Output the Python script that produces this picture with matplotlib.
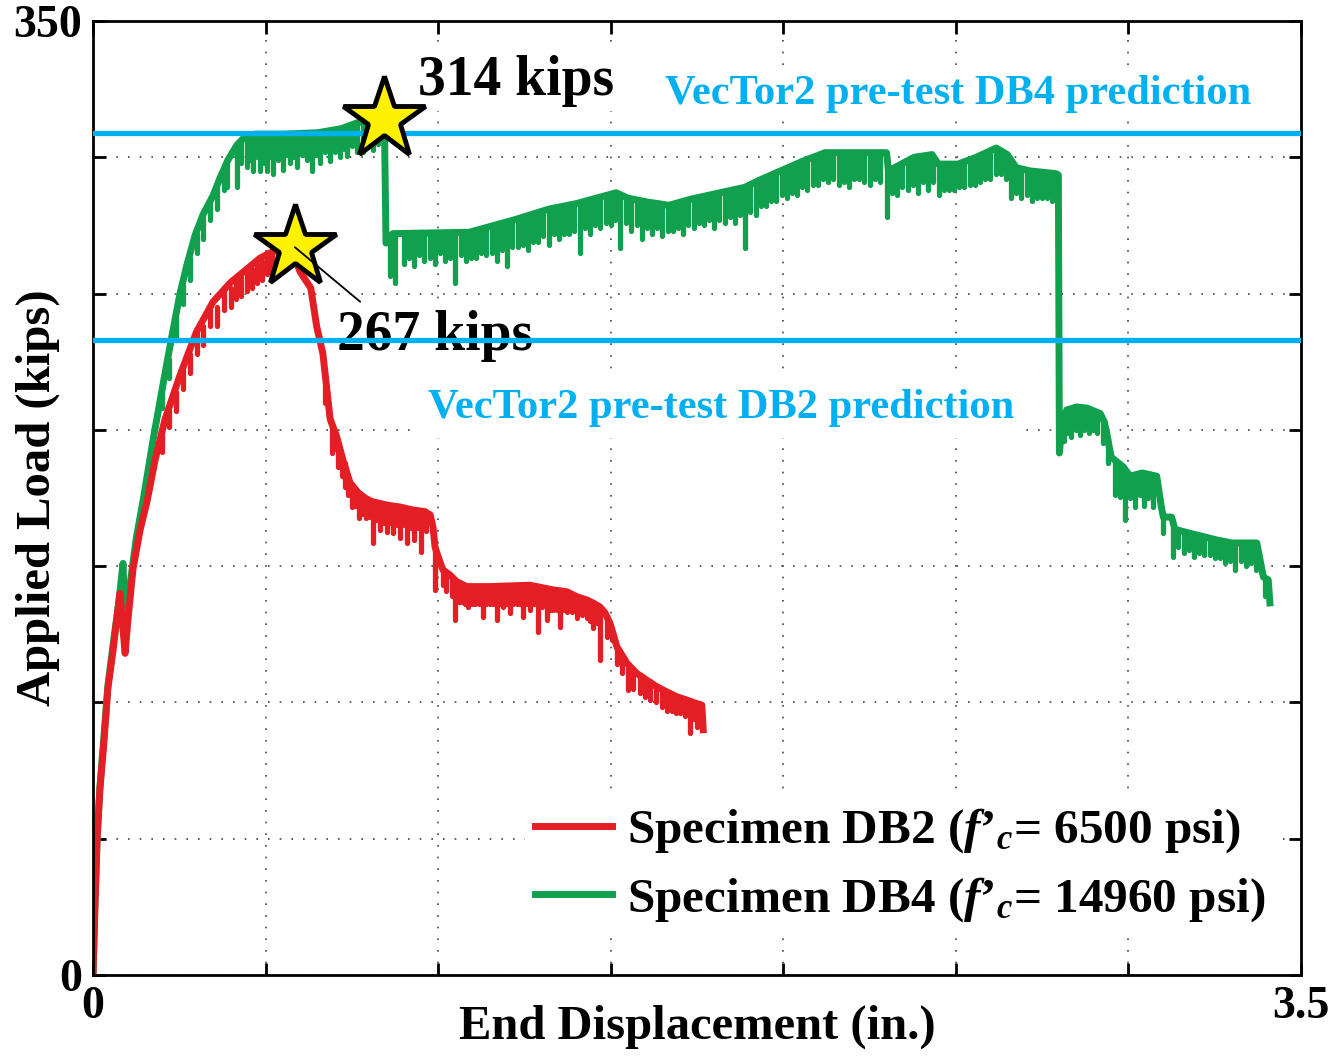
import matplotlib.pyplot as plt
from matplotlib.lines import Line2D

plt.rcParams['font.family'] = ['Liberation Serif', 'DejaVu Serif']
plt.rcParams['font.weight'] = 'bold'
plt.rcParams['axes.labelweight'] = 'bold'
plt.rcParams['mathtext.fontset'] = 'custom'
plt.rcParams['mathtext.rm'] = 'Liberation Serif:bold'
plt.rcParams['mathtext.it'] = 'Liberation Serif:italic:bold'
plt.rcParams['mathtext.bf'] = 'Liberation Serif:bold'

# --- data (in., kips) ---
# specimen DB2, upper envelope of the curve
db2_disp = [0, 0.006, 0.012, 0.020, 0.032, 0.043, 0.058, 0.072, 0.078, 0.093,
            0.101, 0.116, 0.136, 0.157, 0.180, 0.209, 0.252, 0.300, 0.348, 0.398,
            0.446, 0.484, 0.514, 0.550, 0.575, 0.600, 0.631, 0.648, 0.666, 0.687,
            0.706, 0.724, 0.745, 0.768, 0.788, 0.808, 0.832, 0.851, 0.890, 0.927,
            0.962, 0.977, 0.985, 0.991, 1.000, 1.014, 1.034, 1.054, 1.083, 1.150,
            1.266, 1.333, 1.373, 1.402, 1.431, 1.449, 1.469, 1.484, 1.498, 1.518,
            1.547, 1.575, 1.604, 1.633, 1.662, 1.691, 1.720, 1.744, 1.764, 1.768]
db2_load = [0, 27, 50, 68, 86, 105, 119, 134, 140, 118,
            130, 149, 163, 174, 189, 204, 220, 236, 247, 254,
            259, 263, 265, 266.5, 266, 258, 252, 238, 228, 204,
            197.5, 189, 180.5, 177, 175, 173.7, 173, 172.4, 171.7, 170.6,
            170, 168.8, 164.4, 157, 153.5, 148.6, 146.8, 144.3, 142.5, 142.5,
            143, 141.3, 140.6, 138.8, 137.6, 136.5, 135, 132.8, 129, 120.4,
            114.4, 110.7, 108.2, 105.8, 103.9, 102.1, 100.9, 99.8, 99, 90]
# DB2 deep unloading spikes: position, top, bottom
db2_dip_disp = [0.20, 0.24, 0.28, 0.32, 0.36, 0.40, 0.43, 0.46, 0.49, 0.52,
                0.672, 0.692, 0.710, 0.730, 0.750, 0.771, 0.791, 0.810, 0.832, 0.851,
                0.869, 0.890, 0.910, 0.930, 0.950, 0.991, 1.014, 1.049, 1.068, 1.087,
                1.108, 1.130, 1.150, 1.170, 1.188, 1.208, 1.228, 1.246, 1.266, 1.289,
                1.315, 1.333, 1.353, 1.373, 1.402, 1.431, 1.449, 1.469, 1.503, 1.532,
                1.550, 1.585, 1.614, 1.648, 1.677, 1.701, 1.730, 1.749]
db2_dip_top = [199, 214, 228, 238, 245, 252, 256, 259, 262, 264,
               216, 202, 196, 188, 180, 176.5, 174.5, 173.5, 172.8, 172.2,
               171.7, 171.5, 171, 170.3, 169.8, 156.5, 148.3, 145, 143.5, 142.5,
               142.5, 142.5, 142.5, 142.5, 142.5, 142.5, 142.6, 142.7, 142.8, 142.3,
               141.6, 141.1, 140.8, 140.4, 138.6, 137.4, 136.3, 134.8, 127, 117,
               113, 110.2, 107.8, 104.6, 102.8, 101.6, 100.6, 99.7]
db2_dip_low = [192, 207, 221, 231, 238, 245, 249, 252, 255, 257,
               210, 191.5, 186.4, 179.2, 171.8, 167.7, 167.7, 158.5, 163.3, 162.6,
               162, 160.3, 158.5, 159.6, 155.3, 141.3, 143, 130.3, 137, 135.1,
               136, 131.5, 136, 130.3, 135, 132.8, 136, 131.5, 134, 126,
               130.3, 134, 127.8, 133, 131, 131, 127.3, 115.6, 122.9, 110.7,
               104.6, 103.5, 100.9, 98.4, 97, 96, 88.8, 91]
# DB2 shallow spikes between the deep ones
db2_minor_disp = [0.22, 0.26, 0.30, 0.34, 0.38, 0.415, 0.445, 0.475, 0.505, 0.535,
                  0.700, 0.720, 0.740, 0.760, 0.780, 0.800, 0.820, 0.842, 0.860, 0.880,
                  0.900, 0.920, 0.940, 0.965, 1.024, 1.040, 1.059, 1.078, 1.098, 1.119,
                  1.140, 1.160, 1.179, 1.198, 1.218, 1.237, 1.256, 1.278, 1.302, 1.324,
                  1.343, 1.363, 1.388, 1.416, 1.440, 1.459, 1.489, 1.518, 1.565, 1.600,
                  1.630, 1.662, 1.690, 1.715, 1.740, 1.760]
db2_minor_top = [207, 222, 235, 245, 251, 255, 258, 261, 264, 265.5,
                 199, 190, 182, 178, 175.5, 174, 173.2, 172.5, 172, 171.7,
                 171.3, 170.8, 170.2, 169.5, 147.5, 146, 144, 142.7, 142.5, 142.5,
                 142.5, 142.5, 142.5, 142.5, 142.5, 142.6, 142.8, 142.6, 142, 141.3,
                 141, 140.6, 139.6, 138.2, 137, 135.7, 131, 120, 111.5, 108.5,
                 106, 103.8, 102, 101, 99.9, 99]
db2_minor_low = [201, 215, 228, 238, 244, 248, 251, 254, 257, 259,
                 193, 183, 176, 172, 169, 168, 167, 166, 166, 165,
                 165, 164, 164, 163, 141, 139, 137, 136, 136, 136,
                 136, 136, 136, 136, 136, 136, 136, 136, 135, 134,
                 134, 134, 133, 132, 130, 129, 124, 114, 105, 102,
                 100, 97, 96, 95, 94, 93]

# specimen DB4, upper envelope of the curve
db4_disp = [0, 0.006, 0.012, 0.020, 0.032, 0.043, 0.058, 0.075, 0.087, 0.093,
            0.104, 0.125, 0.145, 0.175, 0.209, 0.226, 0.252, 0.272, 0.296, 0.319,
            0.348, 0.368, 0.391, 0.417, 0.440, 0.470, 0.550, 0.650, 0.720, 0.764,
            0.810, 0.835, 0.845, 0.849, 0.852, 0.869, 1.090, 1.219, 1.321, 1.400,
            1.516, 1.550, 1.605, 1.669, 1.734, 1.799, 1.889, 1.927, 1.992, 2.057,
            2.121, 2.299, 2.305, 2.379, 2.431, 2.449, 2.506, 2.559, 2.617, 2.649,
            2.675, 2.715, 2.790, 2.797, 2.800, 2.806, 2.821, 2.850, 2.880, 2.918,
            2.930, 2.937, 2.950, 2.985, 3.005, 3.040, 3.082, 3.095, 3.101, 3.125,
            3.135, 3.180, 3.256, 3.300, 3.372, 3.391, 3.405, 3.410]
db4_load = [0, 28, 51, 69, 88, 106, 121, 137, 151, 128,
            140, 160, 174, 197, 221, 232.6, 250, 260.5, 271.5, 279,
            286, 292.4, 299, 304.5, 307.5, 308.5, 308.5, 309, 310.5, 312.6,
            313.5, 314, 306, 268.5, 270, 272, 272.5, 277, 281, 283,
            287, 285, 283.6, 282.4, 284.7, 286.5, 289, 291.4, 295, 298.6,
            301.7, 301.7, 295, 300, 301, 297.5, 297.5, 300, 303.4, 301,
            296.2, 295, 294, 293.5, 191.5, 200, 207.3, 208.4, 208, 206,
            203, 198.8, 190, 186.4, 183, 184.2, 183, 172, 168, 168,
            163.5, 162, 159.6, 158.5, 158.5, 146, 145, 136.5]
# DB4 deep unloading spikes: position, top, bottom
db4_dip_disp = [0.20, 0.24, 0.28, 0.32, 0.36, 0.388, 0.417, 0.446, 0.464, 0.484,
                0.504, 0.522, 0.551, 0.571, 0.591, 0.620, 0.635, 0.658, 0.687, 0.716,
                0.736, 0.765, 0.782, 0.811, 0.860, 0.875, 0.900, 0.930, 0.960, 0.990,
                1.020, 1.050, 1.080, 1.110, 1.140, 1.170, 1.200, 1.230, 1.260, 1.290,
                1.320, 1.350, 1.380, 1.410, 1.440, 1.470, 1.500, 1.527, 1.560, 1.590,
                1.620, 1.650, 1.680, 1.710, 1.740, 1.770, 1.800, 1.830, 1.860, 1.889,
                1.920, 1.950, 1.980, 2.010, 2.040, 2.070, 2.100, 2.130, 2.160, 2.190,
                2.220, 2.250, 2.280, 2.301, 2.330, 2.360, 2.390, 2.420, 2.450, 2.480,
                2.510, 2.540, 2.570, 2.600, 2.630, 2.660, 2.690, 2.720, 2.750, 2.780,
                2.812, 2.835, 2.860, 2.885, 2.910, 2.940, 2.960, 2.975, 2.990, 3.020,
                3.045, 3.070, 3.100, 3.130, 3.160, 3.190, 3.220, 3.250, 3.280, 3.310,
                3.340, 3.370, 3.395]
db4_dip_top = [215, 241, 263, 278, 289, 297, 303, 307, 307.5, 308,
               308, 308, 308, 308, 308.5, 308.5, 308.5, 309, 309.5, 310,
               311, 312, 312.5, 313, 270.5, 271.5, 272, 272, 272, 272,
               272, 272, 272, 273, 274, 275, 276, 277, 278.5, 279.5,
               280.5, 281.5, 282, 283, 284, 285, 286, 286, 284.5, 283.5,
               283, 282.5, 282.5, 283.5, 284.5, 285.5, 286.5, 287, 288, 288.5,
               290.5, 292, 294, 295.5, 297.5, 299, 300.5, 301.2, 301.2, 301.2,
               301.2, 301.2, 301.2, 301, 296.5, 298.5, 300, 300.5, 297, 297,
               297, 298.5, 300.5, 302, 302.5, 298.5, 295.5, 294.5, 294, 293.5,
               204, 207.5, 208, 207.5, 206, 197, 188.5, 187, 185.5, 183,
               183.8, 183, 167.5, 166, 162.5, 161.5, 160.5, 159.5, 158.8, 158.3,
               158.3, 158.3, 145.5]
db4_dip_low = [208, 233, 255, 270, 281, 289, 289, 296.5, 295, 295,
               295, 294, 295.5, 298, 296.5, 299, 295, 298, 298.5, 300,
               300.5, 302, 302, 302.7, 256.5, 254, 261, 260, 262, 261,
               262, 254, 262, 263, 264, 262, 260, 267, 266, 269,
               268, 270, 272, 265, 272, 274, 275, 266.6, 273, 270,
               272, 271, 273, 272, 274, 275, 274, 276, 276, 266.7,
               279, 282, 284, 285, 286, 288, 290, 291, 290, 289,
               292, 290, 291, 278, 286, 288, 287, 288, 286, 288,
               289, 290, 291, 292, 294, 285, 285, 284, 285, 284,
               196, 197.4, 198, 199, 199, 187.8, 176, 175.4, 167, 171.7,
               172, 171.7, 162, 153.4, 155, 153.4, 154, 153, 151, 148.6,
               150, 148.6, 139]
# DB4 shallow spikes between the deep ones
db4_minor_disp = [0.22, 0.26, 0.30, 0.34, 0.38, 0.43, 0.455, 0.474, 0.494, 0.513,
                  0.537, 0.561, 0.581, 0.605, 0.647, 0.672, 0.700, 0.726, 0.750, 0.795,
                  0.825, 0.915, 0.945, 0.975, 1.005, 1.035, 1.065, 1.095, 1.125, 1.155,
                  1.185, 1.215, 1.245, 1.275, 1.305, 1.335, 1.365, 1.395, 1.425, 1.455,
                  1.485, 1.513, 1.543, 1.575, 1.605, 1.635, 1.665, 1.695, 1.725, 1.755,
                  1.785, 1.815, 1.845, 1.875, 1.905, 1.935, 1.965, 1.995, 2.025, 2.055,
                  2.085, 2.115, 2.145, 2.175, 2.205, 2.235, 2.265, 2.315, 2.345, 2.375,
                  2.405, 2.435, 2.465, 2.495, 2.525, 2.555, 2.585, 2.615, 2.645, 2.675,
                  2.705, 2.735, 2.765, 2.825, 2.848, 2.872, 2.897, 2.925, 3.005, 3.033,
                  3.058, 3.145, 3.175, 3.205, 3.235, 3.265, 3.295, 3.325, 3.355]
db4_minor_top = [226, 253, 272, 284, 295, 306, 307.5, 308, 308, 308,
                 308, 308, 308, 308.5, 308.8, 309.2, 309.8, 310.5, 311.5, 312.8,
                 313.3, 272, 272, 272, 272, 272, 272, 272.5, 273.5, 274.5,
                 275.5, 276.5, 277.5, 278.5, 280, 281, 281.5, 282.5, 283.5, 284.5,
                 285.5, 286.5, 285, 284, 283.3, 282.8, 282.2, 283.2, 284.2, 285,
                 286, 286.5, 287.5, 288.5, 289.5, 291.5, 293.2, 294.8, 296.5, 298.2,
                 299.8, 301.2, 301.4, 301.4, 301.4, 301.4, 301.4, 295.5, 297.5, 299.5,
                 300.3, 300, 297.2, 297.2, 298.2, 299.6, 301.2, 303, 301, 296,
                 295, 294.5, 294, 207, 208, 208, 207, 203, 183, 183.5,
                 183.5, 163, 162, 161, 160, 159, 158.5, 158.3, 158.3]
db4_minor_low = [219, 246, 265, 277, 288, 298, 299, 300, 298, 300,
                 299, 301, 300, 301, 301, 302, 302, 303, 304, 305,
                 305, 263, 264, 263, 265, 263, 264, 263, 265, 265,
                 266, 267, 268, 269, 271, 272, 272, 273, 274, 275,
                 276, 277, 276, 275, 274, 274, 273, 274, 275, 276,
                 277, 277, 278, 279, 280, 282, 284, 286, 287, 289,
                 290, 292, 292, 291, 292, 291, 292, 287, 289, 290,
                 291, 291, 288, 288, 289, 290, 292, 294, 292, 287,
                 286, 285, 285, 199, 200, 200, 200, 195, 175, 176,
                 175, 157, 156, 155, 154, 153, 152, 152, 151]

# peak loads (stars) and VecTor2 predictions
peak_disp = [0.585, 0.842]
peak_load = [267, 314]
peak_labels = ['267 kips', '314 kips']
pred_load = [233, 309]
pred_labels = ['VecTor2 pre-test DB2 prediction', 'VecTor2 pre-test DB4 prediction']

x_ticks = [0, 0.5, 1.0, 1.5, 2.0, 2.5, 3.0, 3.5]
x_ticklabels = ['0', '', '', '', '', '', '', '3.5']
y_ticks = [0, 50, 100, 150, 200, 250, 300, 350]
y_ticklabels = ['0', '', '', '', '', '', '', '350']

legend_labels = [r'Specimen DB2 ($f$’$_c$= 6500 psi)',
                 r'Specimen DB4 ($f$’$_c$= 14960 psi)']

RED = '#e41e25'
GREEN = '#11a04d'
BLUE = '#00b0f0'
LW = 5
SPIKE_LW = 3.8

fig = plt.figure(figsize=(13.37, 10.56), dpi=100)
ax = fig.add_axes([93 / 1337, 81 / 1056, 1208 / 1337, 954 / 1056])

ax.set_xlim(0, 3.5)
ax.set_ylim(0, 350)
ax.set_xticks(x_ticks)
ax.set_xticklabels(x_ticklabels)
ax.set_yticks(y_ticks)
ax.set_yticklabels(y_ticklabels)
ax.tick_params(direction='in', length=9, width=2, top=True, right=True,
               labelsize=33, pad=8)
for s in ax.spines.values():
    s.set_linewidth(2)
ax.grid(True, color='#444444', linestyle=(0, (1, 6)), linewidth=1.2)

# curves
ax.plot(db4_disp, db4_load, color=GREEN, lw=LW, solid_joinstyle='round', zorder=2)
for xs, lo, hi in [(db4_dip_disp, db4_dip_low, db4_dip_top),
                   (db4_minor_disp, db4_minor_low, db4_minor_top)]:
    ax.vlines(xs, lo, hi, colors=GREEN, lw=SPIKE_LW, capstyle='round', zorder=2)
ax.plot(db2_disp, db2_load, color=RED, lw=LW, solid_joinstyle='round', zorder=2.1)
for xs, lo, hi in [(db2_dip_disp, db2_dip_low, db2_dip_top),
                   (db2_minor_disp, db2_minor_low, db2_minor_top)]:
    ax.vlines(xs, lo, hi, colors=RED, lw=SPIKE_LW, capstyle='round', zorder=2.1)

# peak labels
ax.text(0.942, 322.9, peak_labels[1], fontsize=40, ha='left', va='baseline',
        bbox=dict(facecolor='white', edgecolor='none', pad=3), zorder=3)
ax.text(0.707, 229.3, peak_labels[0], fontsize=40, ha='left', va='baseline',
        bbox=dict(facecolor='white', edgecolor='none', pad=6), zorder=3)

# prediction lines
for yv in pred_load:
    ax.axhline(yv, color=BLUE, lw=3.8, zorder=4)
ax.text(1.657, 319.5, pred_labels[1], fontsize=30.6, color=BLUE, ha='left',
        va='baseline', bbox=dict(facecolor='white', edgecolor='none', pad=4), zorder=3)
ax.text(0.971, 204.5, pred_labels[0], fontsize=30.6, color=BLUE, ha='left',
        va='baseline', bbox=dict(facecolor='white', edgecolor='none', pad=8), zorder=3)

# stars
ax.plot(peak_disp, peak_load, ls='none', marker='*', ms=62, mfc='#fff100',
        mec='black', mew=3.5, zorder=6)
ax.annotate('', xy=(peak_disp[0], peak_load[0]), xytext=(0.774, 247),
            arrowprops=dict(arrowstyle='-', color='black', lw=1.3,
                            shrinkA=0, shrinkB=0), zorder=7)

handles = [Line2D([], [], color=RED, lw=LW), Line2D([], [], color=GREEN, lw=LW)]
leg = ax.legend(handles, legend_labels, loc='upper left', bbox_to_anchor=(0.358, 0.187),
                frameon=True, fancybox=False, framealpha=1, edgecolor='none',
                fontsize=35.5, handlelength=1.55, handletextpad=0.3,
                labelspacing=0.4, borderpad=0.2, borderaxespad=0)
leg.set_zorder(5)

ax.set_xlabel('End Displacement (in.)', fontsize=35, fontweight='bold')
ax.xaxis.set_label_coords(0.5, -0.031)
ax.set_ylabel('Applied Load (kips)', fontsize=35, fontweight='bold')
ax.yaxis.set_label_coords(-0.027, 0.5)

fig.savefig('out.png', dpi=100)
